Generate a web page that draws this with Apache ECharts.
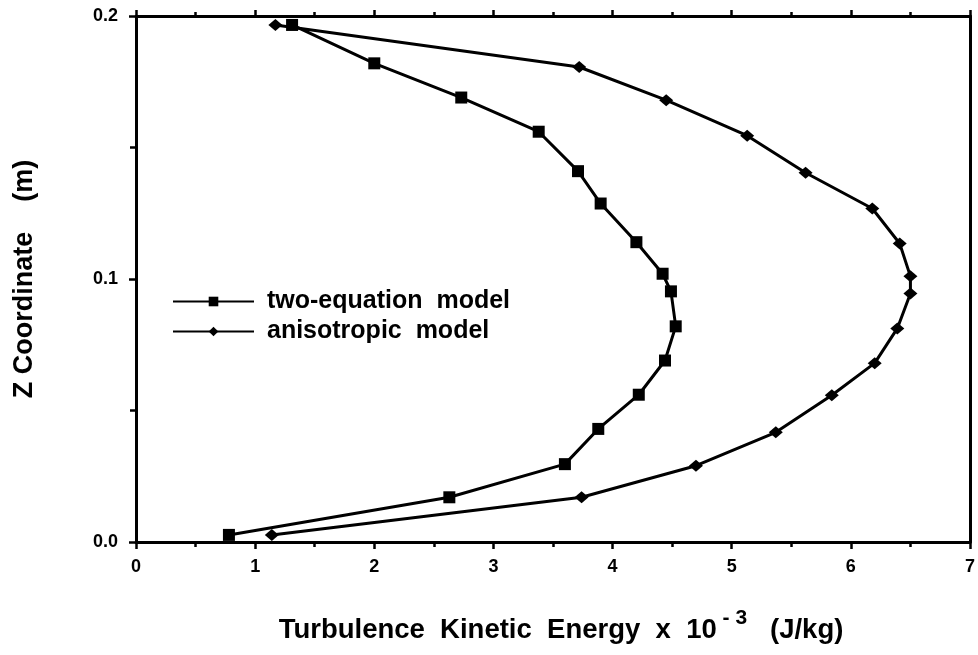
<!DOCTYPE html>
<html>
<head>
<meta charset="utf-8">
<script src="https://cdn.jsdelivr.net/npm/echarts@6/dist/echarts.min.js"></script>
<style>
html,body{margin:0;padding:0;background:#fff;}
#c{width:978px;height:655px;}
</style>
</head>
<body>
<div id="c"></div>
<script>
// Data
const twoEqX = [1.31, 2.00, 2.73, 3.38, 3.71, 3.90, 4.20, 4.42, 4.49, 4.53, 4.44, 4.22, 3.88, 3.60, 2.63, 0.78];
const twoEqZ = [0.1966, 0.182, 0.169, 0.156, 0.141, 0.1287, 0.114, 0.102, 0.0953, 0.082, 0.069, 0.056, 0.043, 0.0296, 0.017, 0.0027];
const anisoX = [1.17, 3.72, 4.45, 5.13, 5.62, 6.18, 6.41, 6.50, 6.50, 6.39, 6.20, 5.84, 5.37, 4.70, 3.74, 1.14];
const anisoZ = [0.1966, 0.1806, 0.168, 0.1545, 0.1404, 0.1268, 0.1135, 0.101, 0.0945, 0.0812, 0.068, 0.0558, 0.0417, 0.029, 0.017, 0.0027];
const seriesNames = ['two-equation  model', 'anisotropic  model'];
const xTickLabels = ['0','1','2','3','4','5','6','7'];

const pair = (xs, ys) => xs.map((x, i) => [x, ys[i]]);
const font = '"Liberation Sans", Arial, sans-serif';

const chart = echarts.init(document.getElementById('c'));
chart.setOption({
  animation: false,
  backgroundColor: '#fff',
  grid: {left: 136, right: 3, top: 16, bottom: 113},
  legend: {
    orient: 'vertical',
    left: 167, top: 284,
    itemWidth: 81, itemHeight: 12, itemGap: 5,
    textStyle: {fontFamily: font, fontWeight: 'bold', fontSize: 25, lineHeight: 25, color: '#000', padding: [0,0,0,8]},
    data: seriesNames
  },
  xAxis: [{
    type: 'value', min: 0, max: 7, interval: 1,
    axisLine: {show: true, onZero: false, lineStyle: {color: '#000', width: 3}},
    axisTick: {show: true, length: 7, lineStyle: {color: '#000', width: 2.5}},
    minorTick: {show: true, splitNumber: 2, length: 5, lineStyle: {color: '#000', width: 2.5}},
    splitLine: {show: false},
    axisLabel: {fontFamily: font, fontWeight: 'bold', fontSize: 18, color: '#000', margin: 16,
      formatter: v => xTickLabels[Math.round(v)]},
    name: '{t|Turbulence  Kinetic  Energy  x  10}{s| - 3}{t|   (J/kg)}',
    nameLocation: 'middle', nameGap: 66,
    nameTextStyle: {padding: [0,0,0,16], rich: {
      t: {fontFamily: font, fontWeight: 'bold', fontSize: 27.5, color: '#000', verticalAlign: 'bottom', lineHeight: 36},
      s: {fontFamily: font, fontWeight: 'bold', fontSize: 21, color: '#000', verticalAlign: 'top', lineHeight: 16}
    }}
  }, {
    type: 'value', min: 0, max: 7, interval: 1, position: 'top',
    axisLine: {show: true, onZero: false, lineStyle: {color: '#000', width: 3}},
    axisTick: {show: true, length: 6, lineStyle: {color: '#000', width: 2.5}},
    minorTick: {show: true, splitNumber: 2, length: 4, lineStyle: {color: '#000', width: 2.5}},
    splitLine: {show: false}, axisLabel: {show: false}
  }],
  yAxis: [{
    type: 'value', min: 0, max: 0.2, interval: 0.1,
    axisLine: {show: true, onZero: false, lineStyle: {color: '#000', width: 3}},
    axisTick: {show: true, length: 7, lineStyle: {color: '#000', width: 2.5}},
    minorTick: {show: true, splitNumber: 2, length: 6, lineStyle: {color: '#000', width: 2.5}},
    splitLine: {show: false},
    axisLabel: {fontFamily: font, fontWeight: 'bold', fontSize: 18, color: '#000', margin: 18,
      formatter: v => v.toFixed(1)},
    name: 'Z Coordinate    (m)', nameLocation: 'middle', nameGap: 98, nameRotate: 90,
    nameTextStyle: {fontFamily: font, fontWeight: 'bold', fontSize: 27, color: '#000'}
  }, {
    type: 'value', min: 0, max: 0.2, interval: 0.1, position: 'right',
    axisLine: {show: true, onZero: false, lineStyle: {color: '#000', width: 3}},
    axisTick: {show: false}, splitLine: {show: false}, axisLabel: {show: false}
  }],
  series: [{
    name: seriesNames[0], type: 'line', data: pair(twoEqX, twoEqZ),
    symbol: 'rect', symbolSize: 12,
    lineStyle: {color: '#000', width: 3},
    itemStyle: {color: '#000'}
  }, {
    name: seriesNames[1], type: 'line', data: pair(anisoX, anisoZ),
    symbol: 'diamond', symbolSize: [14, 12],
    lineStyle: {color: '#000', width: 3},
    itemStyle: {color: '#000'}
  }]
});
</script>
</body>
</html>
